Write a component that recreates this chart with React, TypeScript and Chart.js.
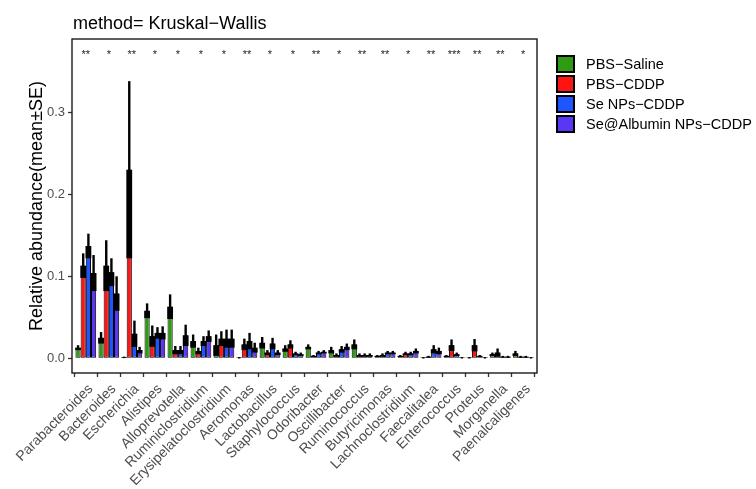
import React, { useEffect, useRef } from "react";
import { Chart, registerables } from "chart.js";
Chart.register(...registerables);

const categories = [
  "Parabacteroides", "Bacteroides", "Escherichia", "Alistipes", "Alloprevotella",
  "Ruminiclostridium", "Erysipelatoclostridium", "Aeromonas", "Lactobacillus", "Staphylococcus",
  "Odoribacter", "Oscillibacter", "Ruminococcus", "Butyricimonas", "Lachnoclostridium",
  "Faecalitalea", "Enterococcus", "Proteus", "Morganella", "Paenalcaligenes",
];
const seriesNames = ["PBS−Saline", "PBS−CDDP", "Se NPs−CDDP", "Se@Albumin NPs−CDDP"];
const seriesColors = ["#2F9B12", "#FF1414", "#1F55FF", "#5B36F5"];

const salineMean = [0.013, 0.025, 0.0015, 0.058, 0.063, 0.021, 0.016, 0.001, 0.019, 0.012, 0.014, 0.010, 0.017, 0.003, 0.003, 0.001, 0.003, 0.001, 0.005, 0.006];
const salineSE = [0.003, 0.007, 0.0005, 0.009, 0.015, 0.008, 0.013, 0.0005, 0.007, 0.004, 0.003, 0.004, 0.006, 0.001, 0.001, 0.0005, 0.001, 0.0005, 0.002, 0.003];
const cddpMean = [0.113, 0.113, 0.230, 0.027, 0.010, 0.009, 0.024, 0.017, 0.007, 0.017, 0.003, 0.004, 0.004, 0.004, 0.006, 0.002, 0.016, 0.016, 0.007, 0.002];
const cddpSE = [0.015, 0.031, 0.108, 0.013, 0.005, 0.004, 0.009, 0.007, 0.003, 0.005, 0.001, 0.002, 0.002, 0.002, 0.002, 0.001, 0.007, 0.0075, 0.005, 0.001];
const seNpMean = [0.137, 0.105, 0.030, 0.031, 0.010, 0.021, 0.024, 0.021, 0.018, 0.006, 0.007, 0.011, 0.004, 0.007, 0.006, 0.011, 0.005, 0.003, 0.002, 0.002];
const seNpSE = [0.015, 0.017, 0.016, 0.007, 0.005, 0.006, 0.011, 0.010, 0.007, 0.002, 0.002, 0.004, 0.002, 0.002, 0.002, 0.005, 0.002, 0.001, 0.001, 0.001];
const albMean = [0.104, 0.079, 0.010, 0.031, 0.028, 0.027, 0.024, 0.013, 0.007, 0.005, 0.008, 0.014, 0.004, 0.007, 0.009, 0.009, 0.001, 0.001, 0.002, 0.001];
const albSE = [0.022, 0.021, 0.004, 0.008, 0.013, 0.007, 0.011, 0.006, 0.003, 0.002, 0.002, 0.004, 0.002, 0.002, 0.003, 0.004, 0.0005, 0.0005, 0.001, 0.0005];

const significance = ["**", "*", "**", "*", "*", "*", "*", "**", "*", "*", "**", "*", "**", "**", "*", "**", "***", "**", "**", "*"];
const yTicks = [0, 0.1, 0.2, 0.3];
const starLevel = 0.366;
const titleText = "method= Kruskal−Wallis";
const yTitleText = "Relative abundance(mean±SE)";

const FONT = "'Liberation Sans', Arial, Helvetica, sans-serif";

export default function App() {
  const ref = useRef<HTMLCanvasElement>(null);
  useEffect(() => {
    const means = [salineMean, cddpMean, seNpMean, albMean];
    const ses = [salineSE, cddpSE, seNpSE, albSE];
    const datasets = means.map((m, d) => ({
      label: seriesNames[d],
      data: m.map((v, i) => ({ x: i, y: v })),
      backgroundColor: seriesColors[d],
      borderColor: "#000",
      borderWidth: 1,
      borderSkipped: false,
      categoryPercentage: 0.9,
      barPercentage: 1,
    }));

    const errorPlugin = {
      id: "errbars",
      afterDatasetsDraw(chart: any) {
        const ctx = chart.ctx;
        const y = chart.scales.y;
        ctx.save();
        means.forEach((m, d) => {
          const meta = chart.getDatasetMeta(d);
          meta.data.forEach((el: any, i: number) => {
            const { x, width } = el.getProps(["x", "width"], true);
            const mean = m[i];
            const se = ses[d][i];
            const yMean = y.getPixelForValue(mean);
            const yLow = y.getPixelForValue(Math.max(0, mean - se));
            const yHigh = y.getPixelForValue(mean + se);
            ctx.fillStyle = "#000";
            ctx.fillRect(x - width / 2 - 0.3, yMean, width + 0.6, yLow - yMean);
            ctx.strokeStyle = "#000";
            ctx.lineWidth = 2.4;
            ctx.beginPath();
            ctx.moveTo(x, yMean + 1);
            ctx.lineTo(x, yHigh);
            ctx.stroke();
          });
        });
        ctx.restore();
      },
    };

    const decorPlugin = {
      id: "decor",
      afterDraw(chart: any) {
        const ctx = chart.ctx;
        const a = chart.chartArea;
        const xs = chart.scales.x;
        const ys = chart.scales.y;
        ctx.save();
        // frame
        ctx.strokeStyle = "#1a1a1a";
        ctx.lineWidth = 1.4;
        ctx.strokeRect(a.left, a.top, a.right - a.left, a.bottom - a.top);
        // stars
        ctx.fillStyle = "#222";
        ctx.font = `11px ${FONT}`;
        ctx.textAlign = "center";
        ctx.textBaseline = "alphabetic";
        const sy = ys.getPixelForValue(starLevel);
        significance.forEach((s, i) => {
          ctx.fillText(s, xs.getPixelForValue(i), sy);
        });
        // title
        ctx.fillStyle = "#000";
        ctx.font = `18px ${FONT}`;
        ctx.textAlign = "left";
        ctx.fillText(titleText, a.left + 1, 28.5);
        // y title
        ctx.save();
        ctx.translate(41.5, (a.top + a.bottom) / 2);
        ctx.rotate(-Math.PI / 2);
        ctx.textAlign = "center";
        ctx.fillText(yTitleText, 0, 0);
        ctx.restore();
        // legend
        ctx.font = `14.5px ${FONT}`;
        ctx.textBaseline = "middle";
        seriesNames.forEach((n, i) => {
          const top = 56 + i * 20;
          ctx.fillStyle = seriesColors[i];
          ctx.fillRect(557, top, 17, 16);
          ctx.strokeStyle = "#000";
          ctx.lineWidth = 2;
          ctx.strokeRect(557, top, 17, 16);
          ctx.fillStyle = "#000";
          ctx.textAlign = "left";
          ctx.fillText(n, 586, top + 8.5);
        });
        ctx.restore();
      },
    };

    const chart = new Chart(ref.current as HTMLCanvasElement, {
      type: "bar",
      data: { datasets } as any,
      options: {
        animation: false,
        responsive: false,
        layout: { padding: { top: 39, right: 219, left: 0, bottom: 0 } },
        plugins: {
          legend: { display: false },
          title: { display: false },
          tooltip: { enabled: false },
        },
        scales: {
          x: {
            type: "linear",
            min: -0.6,
            max: 19.6,
            offset: false,
            afterBuildTicks: (s: any) => {
              s.ticks = categories.map((_, i) => ({ value: i }));
            },
            afterFit: (s: any) => {
              s.height = 116;
            },
            ticks: {
              autoSkip: false,
              minRotation: 45,
              maxRotation: 45,
              padding: 4,
              labelOffset: 5,
              color: "#4D4D4D",
              font: { size: 14, family: FONT },
              callback: (v: any) => categories[Math.round(Number(v))],
            },
            grid: { drawOnChartArea: false, drawTicks: true, tickLength: 4, color: "#333", tickWidth: 1.3 },
            border: { display: false },
          },
          y: {
            min: -0.0179,
            max: 0.3894,
            afterBuildTicks: (s: any) => {
              s.ticks = yTicks.map((v) => ({ value: v }));
            },
            afterFit: (s: any) => {
              s.width = 72;
            },
            ticks: {
              padding: 3,
              color: "#4D4D4D",
              font: { size: 13, family: FONT },
              callback: (v: any) => Number(v).toFixed(1),
            },
            grid: { drawOnChartArea: false, drawTicks: true, tickLength: 4, color: "#333", tickWidth: 1.3 },
            border: { display: false },
          },
        },
      } as any,
      plugins: [errorPlugin, decorPlugin],
    });
    return () => chart.destroy();
  }, []);
  return (
    <div style={{ position: "fixed", left: 0, top: 0, width: 756, height: 489, background: "#fff" }}>
      <canvas ref={ref} width={756} height={489} style={{ display: "block" }} />
    </div>
  );
}
